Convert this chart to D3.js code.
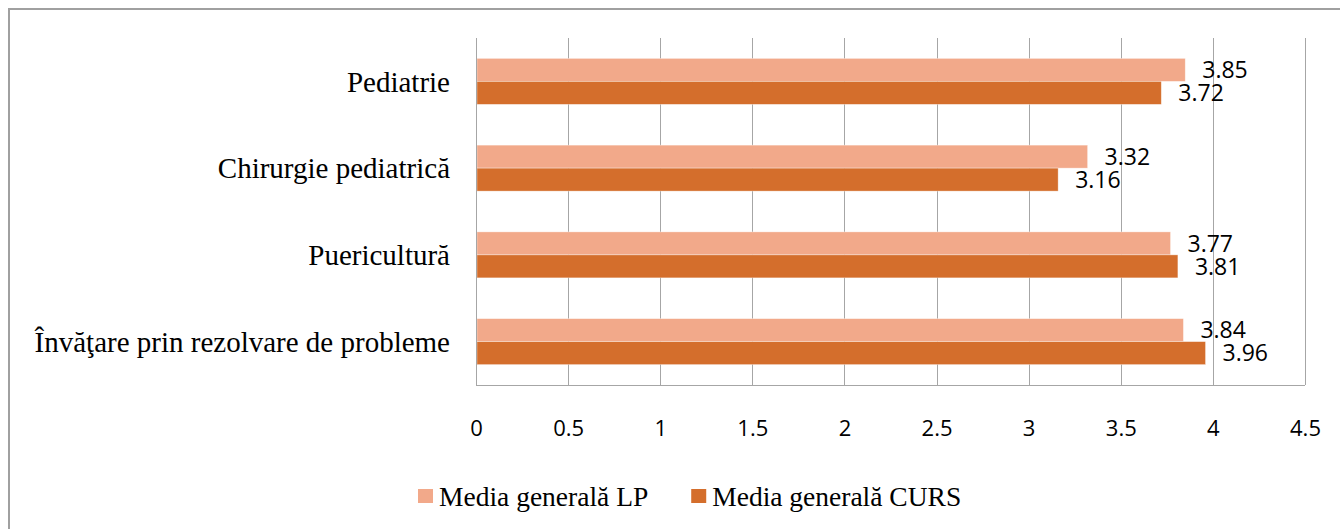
<!DOCTYPE html>
<html>
<head>
    <meta charset="utf-8">
    <title>Media generală LP / CURS</title>
    <script src="https://d3js.org/d3.v7.min.js"></script>
    <style>
        body { margin: 0; background: #fff; }
        .grid line { stroke: #a6a6a6; stroke-width: 1; shape-rendering: crispEdges; }
        .tick-label text { font-family: "Open Sans", sans-serif; font-size: 22px; fill: #000; }
        .cat-label { font-family: "Liberation Serif", serif; font-size: 29px; fill: #000; }
        .value-label { font-family: "Open Sans", sans-serif; font-size: 23px; fill: #000; }
        .legend-text { font-family: "Liberation Serif", serif; font-size: 27.5px; fill: #000; }
    </style>
</head>
<body>
<div id="chart"></div>
<script>
    // categorii (de sus in jos)
    const categories = ["Pediatrie", "Chirurgie pediatrică", "Puericultură", "Învăţare prin rezolvare de probleme"];
    const seriesNames = ["Media generală LP", "Media generală CURS"];
    const valuesLP = [3.85, 3.32, 3.77, 3.84];
    const valuesCURS = [3.72, 3.16, 3.81, 3.96];
    const xTicks = [0, 0.5, 1, 1.5, 2, 2.5, 3, 3.5, 4, 4.5];
    const colors = ["#f2a98a", "#d46e2c"];

    const W = 1340, H = 529;
    const plot = { left: 476, right: 1305, top: 38, bottom: 385 };

    const svg = d3.select("#chart").append("svg")
        .attr("width", W)
        .attr("height", H);

    // chenarul exterior
    svg.append("rect")
        .attr("x", 9).attr("y", 9)
        .attr("width", W).attr("height", H)
        .attr("fill", "none")
        .attr("stroke", "#a0a0a0")
        .attr("stroke-width", 2);

    const x = d3.scaleLinear().domain([0, 4.5]).range([plot.left, plot.right]);
    const y = d3.scaleBand().domain(categories)
        .range([plot.top, plot.bottom])
        .paddingInner(0.47).paddingOuter(0.235);
    const ySub = d3.scaleBand().domain(seriesNames).range([0, y.bandwidth()]);

    // linii de grila verticale
    svg.append("g")
        .attr("class", "grid")
        .selectAll("line")
        .data(xTicks)
        .enter().append("line")
        .attr("x1", d => Math.round(x(d)) + 0.5)
        .attr("x2", d => Math.round(x(d)) + 0.5)
        .attr("y1", plot.top)
        .attr("y2", plot.bottom);

    // axa de jos
    svg.append("g")
        .attr("class", "grid")
        .append("line")
        .attr("x1", plot.left).attr("x2", plot.right)
        .attr("y1", plot.bottom + 0.5).attr("y2", plot.bottom + 0.5);

    // etichete axa X
    const xAxis = svg.append("g")
        .attr("class", "tick-label")
        .attr("transform", `translate(0,${plot.bottom})`)
        .call(d3.axisBottom(x).tickValues(xTicks).tickSize(0).tickPadding(35).tickFormat(d3.format("")));
    xAxis.select(".domain").remove();

    // bare
    const data = [];
    categories.forEach((c, i) => {
        data.push({ cat: c, s: seriesNames[0], v: valuesLP[i], col: colors[0] });
        data.push({ cat: c, s: seriesNames[1], v: valuesCURS[i], col: colors[1] });
    });

    svg.append("g").selectAll("rect")
        .data(data)
        .enter().append("rect")
        .attr("x", x(0) + 1)
        .attr("y", d => y(d.cat) + ySub(d.s))
        .attr("width", d => x(d.v) - x(0) - 1)
        .attr("height", ySub.bandwidth())
        .attr("fill", d => d.col)
        .attr("stroke", "#fff")
        .attr("stroke-opacity", 0.5)
        .attr("stroke-width", 0.7);

    // etichete valori
    svg.append("g").selectAll("text")
        .data(data)
        .enter().append("text")
        .attr("class", "value-label")
        .attr("x", d => x(d.v) + 17)
        .attr("y", d => y(d.cat) + ySub(d.s) + ySub.bandwidth() / 2)
        .attr("dy", "0.36em")
        .text(d => d.v.toFixed(2));

    // axa verticala
    svg.append("g")
        .attr("class", "grid")
        .append("line")
        .attr("x1", plot.left + 0.5).attr("x2", plot.left + 0.5)
        .attr("y1", plot.top).attr("y2", plot.bottom);

    // etichete categorii
    svg.append("g").selectAll("text")
        .data(categories)
        .enter().append("text")
        .attr("class", "cat-label")
        .attr("x", 450)
        .attr("y", d => y(d) + y.bandwidth() / 2)
        .attr("dy", "0.35em")
        .attr("text-anchor", "end")
        .text(d => d);

    // legenda
    const legend = svg.append("g");
    let lx = 418;
    seriesNames.forEach((name, i) => {
        legend.append("rect")
            .attr("x", lx).attr("y", 489)
            .attr("width", 15).attr("height", 14)
            .attr("fill", colors[i]);
        const t = legend.append("text")
            .attr("class", "legend-text")
            .attr("x", lx + 21)
            .attr("y", 506)
            .text(name);
        lx = lx + 21 + t.node().getComputedTextLength() + 43;
    });
</script>
</body>
</html>
